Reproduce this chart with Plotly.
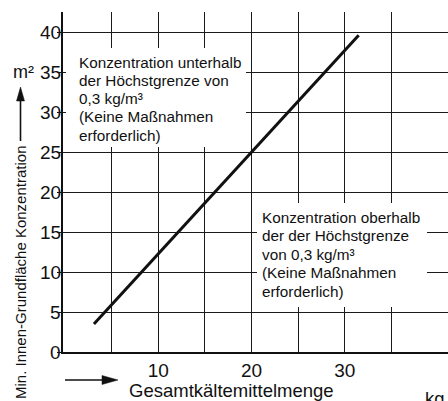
import plotly.graph_objects as go

# Minimum floor area vs. total refrigerant charge
mass_kg = [3.1, 20.0, 31.5]
area_m2 = [3.5, 25.0, 39.6]

x_grid = [5, 10, 15, 20, 25, 30, 35]
x_labels = ["", "10", "", "20", "", "30", ""]
y_grid = [0, 5, 10, 15, 20, 25, 30, 35, 40]
y_labels = ["0", "5", "10", "15", "20", "25", "30", "35", "40"]

note_below = ["Konzentration unterhalb", "der Höchstgrenze von", "0,3 kg/m³",
              "(Keine Maßnahmen", "erforderlich)"]
note_above = ["Konzentration oberhalb", "der der Höchstgrenze", "von 0,3 kg/m³",
              "(Keine Maßnahmen", "erforderlich)"]

W, H = 448, 401
L, R, T, B = 63, 0, 12, 49
PW, PH = W - L - R, H - T - B
FONT = "Liberation Sans, Arial, sans-serif"
INK = "#111111"


def px(x):
    return (x - L) / PW


def py(y):
    return (H - B - y) / PH


fig = go.Figure()
fig.add_trace(go.Scatter(x=mass_kg, y=area_m2, mode="lines",
                         line=dict(color=INK, width=3), hoverinfo="skip"))

shapes = []
annotations = []

# white boxes that interrupt the grid behind the two notes
for x0, y0, x1, y1 in [(66, 48, 246, 147), (257, 203, 427, 307)]:
    shapes.append(dict(type="rect", xref="paper", yref="paper",
                       x0=px(x0), x1=px(x1), y0=py(y1), y1=py(y0),
                       fillcolor="white", line=dict(width=0), layer="above"))


def note(lines, left, top, step):
    for i, t in enumerate(lines):
        annotations.append(dict(text=t, xref="paper", yref="paper",
                                x=px(left), y=py(top + i * step),
                                xanchor="left", yanchor="middle", showarrow=False,
                                font=dict(family=FONT, size=15.3, color=INK)))


note(note_below, 77, 62, 18.3)
note(note_above, 260, 217, 18.5)

# y tick labels set tight against the short outside ticks
for v, t in zip(y_grid, y_labels):
    annotations.append(dict(text=t, xref="paper", yref="y", x=px(61.5), y=v,
                            xanchor="right", yanchor="middle", showarrow=False,
                            borderpad=0, xshift=0,
                            font=dict(family=FONT, size=19, color=INK)))

# axis captions
annotations.append(dict(text="m²", xref="paper", yref="paper", x=px(23.5), y=py(72),
                        xanchor="center", yanchor="middle", showarrow=False,
                        font=dict(family=FONT, size=18, color=INK)))
annotations.append(dict(text="Min. Innen-Grundfläche Konzentration", xref="paper",
                        yref="paper", x=px(20), y=py(273), textangle=-90,
                        xanchor="center", yanchor="middle", showarrow=False,
                        font=dict(family=FONT, size=15, color=INK)))
annotations.append(dict(text="Gesamtkältemittelmenge", xref="paper", yref="paper",
                        x=px(231), y=py(390), xanchor="center", yanchor="middle",
                        showarrow=False, font=dict(family=FONT, size=18.5, color=INK)))
annotations.append(dict(text="kg", xref="paper", yref="paper", x=px(423), y=py(386),
                        xanchor="left", yanchor="top", showarrow=False,
                        font=dict(family=FONT, size=18.5, color=INK)))

# direction arrows next to the axis captions
shapes.append(dict(type="line", xref="paper", yref="paper",
                   x0=px(20.5), x1=px(20.5), y0=py(141), y1=py(99),
                   line=dict(color=INK, width=1.6)))
shapes.append(dict(type="path", xref="paper", yref="paper",
                   path=f"M {px(20.5)} {py(87)} L {px(16.5)} {py(101)} L {px(24.5)} {py(101)} Z",
                   fillcolor=INK, line=dict(color=INK, width=0.5)))
shapes.append(dict(type="line", xref="paper", yref="paper",
                   x0=px(65), x1=px(104), y0=py(380), y1=py(380),
                   line=dict(color=INK, width=1.6)))
shapes.append(dict(type="path", xref="paper", yref="paper",
                   path=f"M {px(118)} {py(380)} L {px(102)} {py(375.5)} L {px(102)} {py(384.5)} Z",
                   fillcolor=INK, line=dict(color=INK, width=0.5)))

fig.update_layout(
    width=W, height=H, autosize=False,
    margin=dict(l=L, r=R, t=T, b=B, pad=0),
    paper_bgcolor="white", plot_bgcolor="white",
    showlegend=False,
    shapes=shapes, annotations=annotations,
    font=dict(family=FONT, color=INK),
    xaxis=dict(range=[-0.22, 41.08], tickmode="array", tickvals=x_grid,
               ticktext=x_labels, ticks="", showgrid=True, gridcolor="#1a1a1a",
               gridwidth=1.3, zeroline=False, showline=True, linecolor=INK,
               linewidth=2, tickfont=dict(family=FONT, size=19, color=INK),
               fixedrange=True),
    yaxis=dict(range=[0, 42.5], tickmode="array", tickvals=y_grid,
               ticks="outside", ticklen=4, tickwidth=1.3, showticklabels=False,
               tickcolor=INK, showgrid=True, gridcolor="#1a1a1a", gridwidth=1.3,
               zeroline=False, showline=True, linecolor=INK, linewidth=2,
               fixedrange=True),
)

fig.write_html("out.html", config=dict(displayModeBar=False))
